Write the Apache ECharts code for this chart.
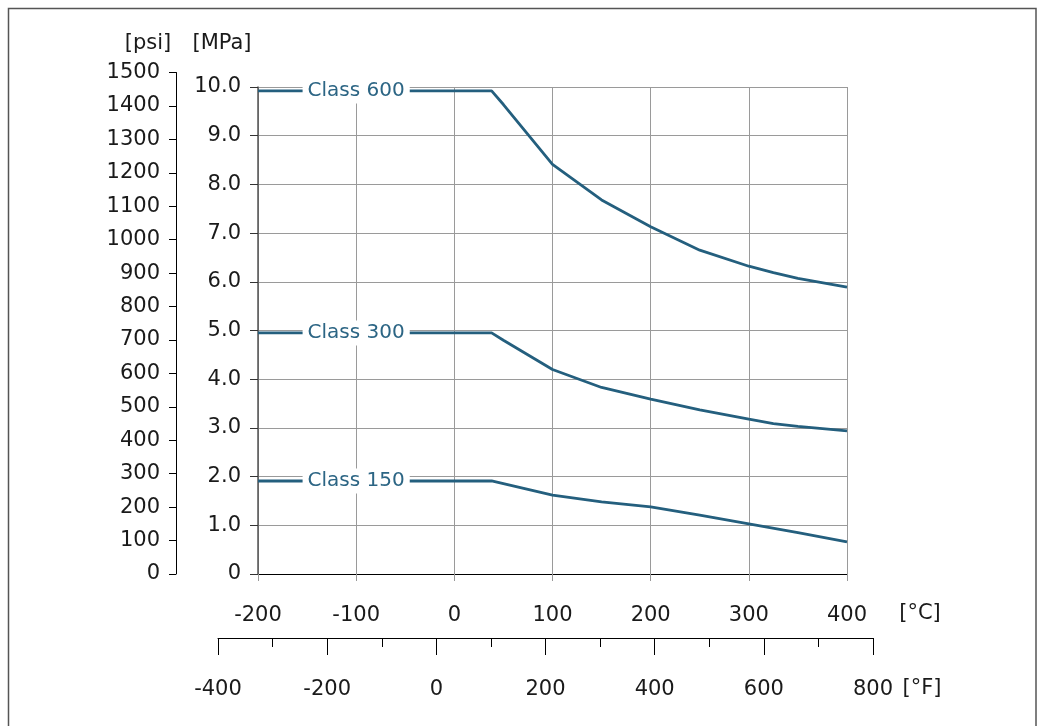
<!DOCTYPE html>
<html>
<head>
<meta charset="utf-8">
<script src="https://cdn.jsdelivr.net/npm/echarts@6/dist/echarts.min.js"></script>
<style>
html,body{margin:0;padding:0;background:#fff;}
#chart{width:1043px;height:726px;}
</style>
</head>
<body>
<div id="chart"></div>
<script>
// Temperatures in °C and pressure ratings in MPa
var temps600 = [-200, 38, 50, 100, 150, 200, 250, 300, 325, 350, 400];
var class600 = [9.92, 9.92, 9.64, 8.41, 7.68, 7.13, 6.65, 6.32, 6.19, 6.07, 5.89];
var temps300 = [-200, 38, 50, 100, 150, 200, 250, 300, 325, 350, 400];
var class300 = [4.95, 4.95, 4.80, 4.20, 3.83, 3.59, 3.37, 3.18, 3.09, 3.03, 2.94];
var temps150 = [-200, 38, 100, 150, 200, 250, 300, 350, 400];
var class150 = [1.91, 1.91, 1.62, 1.48, 1.38, 1.21, 1.03, 0.85, 0.66];
var seriesNames = ['Class 600', 'Class 300', 'Class 150'];
var labelTempC = -100;

var FONT = 'DejaVu Sans';
var FS = 21;
var TXT = '#1a1a1a';
var LINE = '#245f7e';
var LABEL = '#2c6584';

function pairs(xs, ys){ return xs.map(function(x,i){ return [x, ys[i]]; }); }

function mkSeries(name, xs, ys){
  return {
    name: name, type: 'line', xAxisIndex: 0, yAxisIndex: 0,
    data: pairs(xs, ys), showSymbol: false, symbol: 'none',
    lineStyle: {color: LINE, width: 2.8}, z: 3,
    markPoint: {
      symbol: 'circle', symbolSize: 0, silent: true,
      data: [{coord: [labelTempC, ys[0]], value: name}],
      label: {
        show: true, position: 'inside', formatter: name,
        fontFamily: FONT, fontSize: 20, color: LABEL,
        backgroundColor: '#fff', padding: [4, 5, 2, 5], lineHeight: 19
      }
    }
  };
}

var chart = echarts.init(document.getElementById('chart'), null, {renderer: 'canvas'});
chart.setOption({
  animation: false,
  backgroundColor: '#fff',
  grid: [
    {left: 258, top: 87, width: 589, height: 487},
    {left: 218, top: 637, width: 655, height: 1},
    {left: 176, top: 72.5, width: 1, height: 501.5}
  ],
  xAxis: [
    {
      type: 'value', gridIndex: 0, min: -200, max: 400, interval: 100, position: 'bottom',
      axisLine: {show: true, onZero: false, lineStyle: {color: '#000', width: 1}},
      axisTick: {show: true, length: 7, lineStyle: {color: '#999'}},
      axisLabel: {fontFamily: FONT, fontSize: FS, color: TXT, margin: 31},
      splitLine: {show: true, lineStyle: {color: '#9a9a9a', width: 1}}
    },
    {
      type: 'value', gridIndex: 1, min: -400, max: 800, interval: 200, position: 'bottom',
      axisLine: {show: true, onZero: false, lineStyle: {color: '#000', width: 1}},
      axisTick: {show: true, length: 17, lineStyle: {color: '#000'}},
      minorTick: {show: true, splitNumber: 2, length: 9, lineStyle: {color: '#000'}},
      axisLabel: {fontFamily: FONT, fontSize: FS, color: TXT, margin: 41},
      splitLine: {show: false}
    },
    {type: 'value', gridIndex: 2, show: false, min: 0, max: 1}
  ],
  yAxis: [
    {
      type: 'value', gridIndex: 0, min: 0, max: 10, interval: 1, position: 'left',
      axisLine: {show: true, onZero: false, lineStyle: {color: '#555', width: 1.5}},
      axisTick: {show: true, length: 8, lineStyle: {color: '#333'}},
      axisLabel: {fontFamily: FONT, fontSize: FS, color: TXT, margin: 17, padding: [4, 0, 0, 0],
        formatter: function(v){ return v === 0 ? '0' : v.toFixed(1); }},
      splitLine: {show: true, lineStyle: {color: '#9a9a9a', width: 1}}
    },
    {type: 'value', gridIndex: 1, show: false, min: 0, max: 1},
    {
      type: 'value', gridIndex: 2, min: 0, max: 1500, interval: 100, position: 'left',
      axisLine: {show: true, onZero: false, lineStyle: {color: '#000', width: 1}},
      axisTick: {show: true, length: 7, lineStyle: {color: '#000'}},
      axisLabel: {fontFamily: FONT, fontSize: FS, color: TXT, margin: 16, padding: [4, 0, 0, 0],
        formatter: function(v){ return String(v); }},
      splitLine: {show: false}
    }
  ],
  series: [
    mkSeries(seriesNames[0], temps600, class600),
    mkSeries(seriesNames[1], temps300, class300),
    mkSeries(seriesNames[2], temps150, class150),
    {type: 'line', xAxisIndex: 1, yAxisIndex: 1, data: [], silent: true},
    {type: 'line', xAxisIndex: 2, yAxisIndex: 2, data: [], silent: true}
  ],
  graphic: [
    {type: 'rect', shape: {x: 8.5, y: 8.5, width: 1027.5, height: 740}, style: {fill: 'none', stroke: '#555', lineWidth: 1.5}, silent: true},
    {type: 'text', x: 148, y: 44, style: {text: '[psi]', fontFamily: FONT, fontSize: FS, fill: TXT, align: 'center', verticalAlign: 'middle'}},
    {type: 'text', x: 222, y: 44, style: {text: '[MPa]', fontFamily: FONT, fontSize: FS, fill: TXT, align: 'center', verticalAlign: 'middle'}},
    {type: 'text', x: 920, y: 614, style: {text: '[°C]', fontFamily: FONT, fontSize: FS, fill: TXT, align: 'center', verticalAlign: 'middle'}},
    {type: 'text', x: 922, y: 689, style: {text: '[°F]', fontFamily: FONT, fontSize: FS, fill: TXT, align: 'center', verticalAlign: 'middle'}}
  ]
});
</script>
</body>
</html>
